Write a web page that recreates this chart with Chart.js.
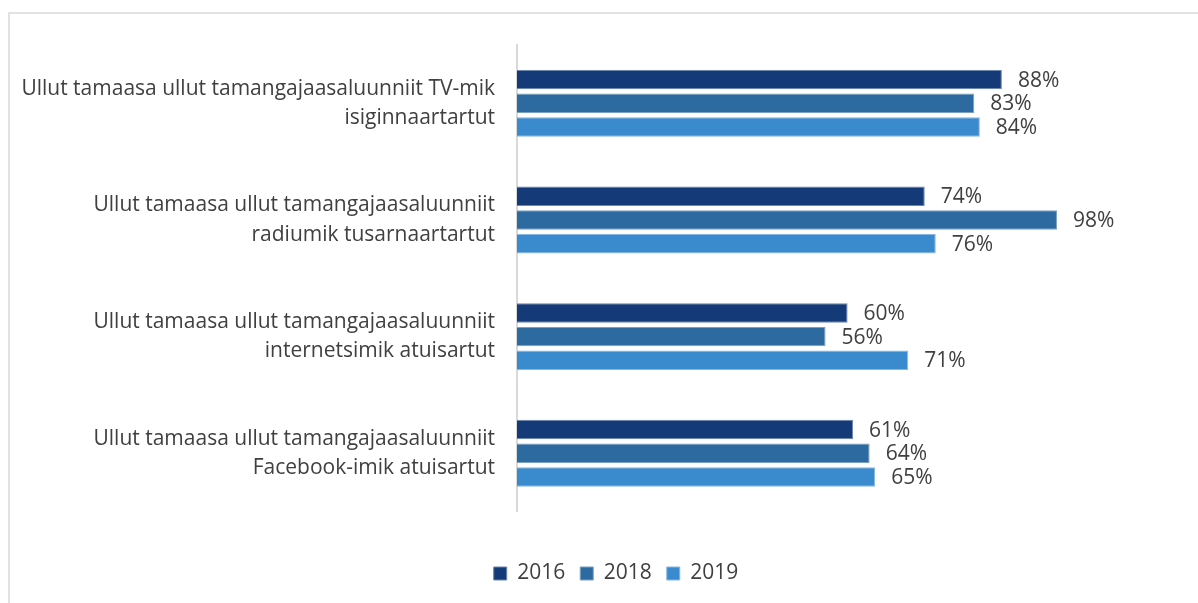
<!DOCTYPE html>
<html>
<head>
<meta charset="utf-8">
<script src="https://cdn.jsdelivr.net/npm/chart.js@4.4.0/dist/chart.umd.min.js"></script>
<style>
  body { margin: 0; background: #fff; }
  .wrap { position: relative; width: 1198px; height: 603px; overflow: hidden; }
  .frame { position: absolute; left: 8px; top: 12px; right: 0; bottom: -2px;
           border-top: 2px solid #e2e2e2; border-left: 2px solid #e2e2e2; }
  canvas { position: absolute; left: 0; top: 0; }
</style>
</head>
<body>
<div class="wrap">
  <div class="frame"></div>
  <canvas id="myChart" width="1198" height="603"></canvas>
</div>
<script>
// categories (two lines each, as in the picture)
const categories = [
  ['Ullut tamaasa ullut tamangajaasaluunniit TV-mik', 'isiginnaartartut'],
  ['Ullut tamaasa ullut tamangajaasaluunniit', 'radiumik tusarnaartartut'],
  ['Ullut tamaasa ullut tamangajaasaluunniit', 'internetsimik atuisartut'],
  ['Ullut tamaasa ullut tamangajaasaluunniit', 'Facebook-imik atuisartut']
]
const years = ['2016', '2018', '2019']
const values2016 = [88, 74, 60, 61]
const values2018 = [83, 98, 56, 64]
const values2019 = [84, 76, 71, 65]
const colors = ['#143b77', '#2c6aa0', '#3a8bcd']
const edges = ['#6d86ad', '#7aa0c2', '#86b7e0']

const textColor = '#404040'
const fontName = "'Open Sans', sans-serif"

// percent labels at the end of each bar
const valueLabels = {
  id: 'valueLabels',
  afterDatasetsDraw(chart) {
    const ctx = chart.ctx
    ctx.save()
    ctx.fillStyle = textColor
    ctx.font = '21px ' + fontName
    ctx.textAlign = 'left'
    ctx.textBaseline = 'middle'
    chart.data.datasets.forEach((ds, i) => {
      chart.getDatasetMeta(i).data.forEach((bar, j) => {
        ctx.fillText(ds.data[j] + '%', bar.x + 16, bar.y + 1)
      })
    })
    ctx.restore()
  }
}

// legend sits a bit right of the canvas centre in the original
const legendShift = {
  id: 'legendShift',
  afterLayout(chart) {
    chart.legend.left += 77
    chart.legend.right += 77
  }
}

const ctx = document.querySelector('#myChart').getContext('2d')
const myChart = new Chart(ctx, {
  type: 'bar',
  data: {
    labels: categories,
    datasets: [
      { label: years[0], data: values2016, backgroundColor: colors[0], borderColor: edges[0], borderWidth: 1 },
      { label: years[1], data: values2018, backgroundColor: colors[1], borderColor: edges[1], borderWidth: 1 },
      { label: years[2], data: values2019, backgroundColor: colors[2], borderColor: edges[2], borderWidth: 1 }
    ]
  },
  options: {
    indexAxis: 'y',
    responsive: false,
    animation: false,
    categoryPercentage: 0.61,
    barPercentage: 0.82,
    layout: { padding: { left: 10, right: 130, top: 45, bottom: 9 } },
    scales: {
      x: { min: 0, max: 100, display: false },
      y: {
        grid: { display: false, drawTicks: false },
        border: { display: true, color: '#d9d9d9', width: 2 },
        ticks: {
          color: textColor,
          padding: 22,
          font: { family: fontName, size: 21, lineHeight: 1.4 }
        },
        afterFit(scale) {
          scale.width = 507
          scale.paddingTop = 0
          scale.paddingBottom = 0
        }
      }
    },
    plugins: {
      tooltip: { enabled: false },
      legend: {
        position: 'bottom',
        title: { display: true, text: ' ', padding: 11 },
        labels: {
          boxWidth: 13,
          boxHeight: 13,
          padding: 15,
          color: textColor,
          font: { family: fontName, size: 21 }
        }
      }
    }
  },
  plugins: [valueLabels, legendShift]
})
</script>
</body>
</html>
